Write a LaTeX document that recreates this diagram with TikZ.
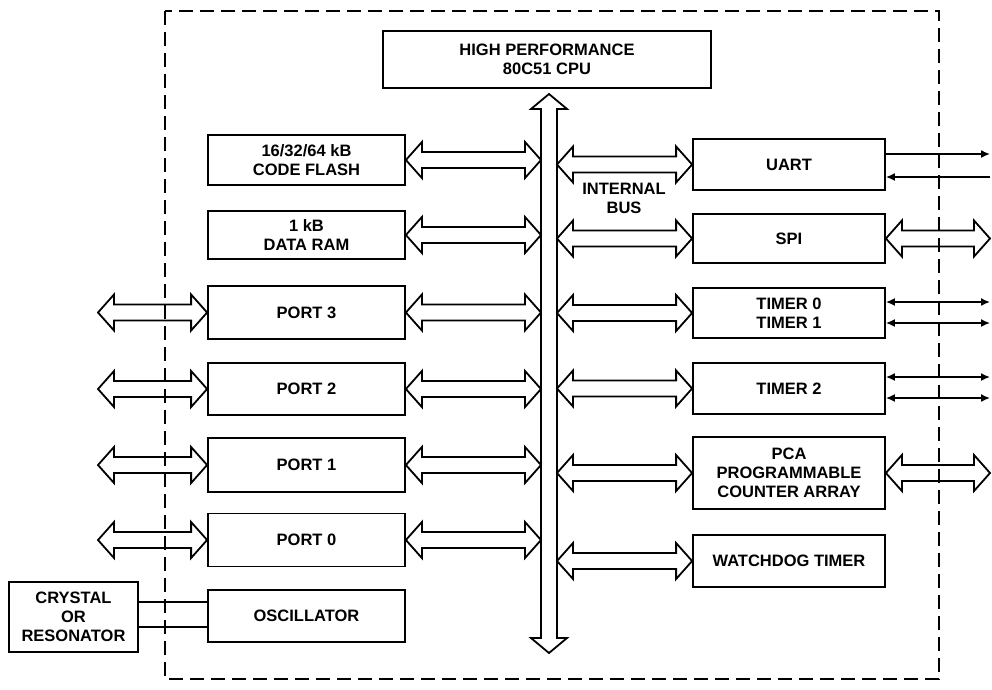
\documentclass[tikz,border=0pt]{standalone}
\usepackage{fontspec}
\setmainfont{Liberation Sans}
\usetikzlibrary{calc,arrows.meta}
\newcommand\hharrow[2]{%
 \draw[hol] let \p1=(#1), \p2=(#2) in
  (\x1,\y1) -- (\x1+16pt,\y1-18pt) -- (\x1+16pt,\y1-8pt) -- (\x2-16pt,\y1-8pt) -- (\x2-16pt,\y1-18pt) -- (\x2,\y1)
  -- (\x2-16pt,\y1+18pt) -- (\x2-16pt,\y1+8pt) -- (\x1+16pt,\y1+8pt) -- (\x1+16pt,\y1+18pt) -- cycle;}
\begin{document}
\begin{tikzpicture}[x=1pt,y=-1pt,
  blk/.style={draw, line width=1.8pt, align=center, inner sep=0pt,
    font=\bfseries\fontsize{16.5}{19}\selectfont},
  hol/.style={draw, line width=1.8pt, line join=miter},
  wire/.style={line width=1.6pt},
  tipa/.style={-{Latex[length=9pt,width=8pt]}},
  tipb/.style={{Latex[length=9pt,width=8pt]}-{Latex[length=9pt,width=8pt]}},
  boundary/.style={line width=2pt, dash pattern=on 14pt off 7pt}]
\useasboundingbox (0,0) rectangle (992,689);
\draw[boundary] (165,11) rectangle (939,679);

% CPU
\node[blk, minimum width=328pt, minimum height=57pt] (cpu) at (547,59.5) {HIGH PERFORMANCE\\80C51 CPU};

% left column
\node[blk, minimum width=197pt, minimum height=50pt] (flash) at (306.5,160) {16/32/64 kB\\CODE FLASH};
\node[blk, minimum width=197pt, minimum height=48pt] (ram) at (306.5,235) {1 kB\\DATA RAM};
\node[blk, minimum width=197pt, minimum height=53pt] (port3) at (306.5,312.5) {PORT 3};
\node[blk, minimum width=197pt, minimum height=52pt] (port2) at (306.5,389) {PORT 2};
\node[blk, minimum width=197pt, minimum height=54pt] (port1) at (306.5,465) {PORT 1};
\node[blk, minimum width=197pt, minimum height=53pt] (port0) at (306.5,540) {PORT 0};
\node[blk, minimum width=197pt, minimum height=52pt] (osc) at (306.5,616) {OSCILLATOR};
\node[blk, minimum width=129pt, minimum height=70pt] (xtal) at (73.5,617) {CRYSTAL\\OR\\RESONATOR};

% right column
\node[blk, minimum width=192pt, minimum height=51pt] (uart) at (789,164.5) {UART};
\node[blk, minimum width=192pt, minimum height=49pt] (spi) at (789,238.5) {SPI};
\node[blk, minimum width=192pt, minimum height=50pt] (tmr01) at (789,313) {TIMER 0\\TIMER 1};
\node[blk, minimum width=192pt, minimum height=51pt] (tmr2) at (789,388.5) {TIMER 2};
\node[blk, minimum width=192pt, minimum height=72pt] (pca) at (789,473) {PCA\\PROGRAMMABLE\\COUNTER ARRAY};
\node[blk, minimum width=192pt, minimum height=52pt] (wdt) at (789,561) {WATCHDOG TIMER};

\node[font=\bfseries\fontsize{16.5}{19}\selectfont, align=center, inner sep=0pt] (buslbl) at (624,198) {INTERNAL\\BUS};

% reference coordinates
\coordinate (busL) at (541,0);
\coordinate (busR) at (557,0);
\coordinate (extL) at (98,0);
\coordinate (extR) at (990,0);
\coordinate (bust) at (549,94);
\coordinate (busb) at (549,653);

% internal bus
\draw[hol] let \p1=(bust), \p2=(busb) in
  (\x1,\y1) -- (\x1+18pt,\y1-15pt) -- (\x1+8pt,\y1-15pt) -- (\x1+8pt,\y2+15pt) -- (\x1+18pt,\y2+15pt) -- (\x1,\y2)
  -- (\x1-18pt,\y2+15pt) -- (\x1-8pt,\y2+15pt) -- (\x1-8pt,\y1-15pt) -- (\x1-18pt,\y1-15pt) -- cycle;

% left internal arrows
\foreach \bx in {flash,ram,port3,port2,port1,port0}{\hharrow{\bx.east}{\bx.east -| busL}}
% right internal arrows
\foreach \bx in {uart,spi,tmr01,tmr2,pca,wdt}{\hharrow{\bx.west -| busR}{\bx.west}}
% left external port arrows
\foreach \bx in {port3,port2,port1,port0}{\hharrow{\bx.west -| extL}{\bx.west}}
% right external hollow arrows
\foreach \bx in {spi,pca}{\hharrow{\bx.east}{\bx.east -| extR}}

% crystal wires
\coordinate (c1) at (0,602);
\coordinate (c2) at (0,627);
\draw[wire] (xtal.east |- c1) -- (osc.west |- c1);
\draw[wire] (xtal.east |- c2) -- (osc.west |- c2);

% UART wires
\coordinate (u1) at (0,154);
\coordinate (u2) at (0,177);
\draw[wire, tipa] (uart.east |- u1) -- (extR |- u1);
\draw[wire, tipa] (extR |- u2) -- (uart.east |- u2);

% timer wires
\coordinate (t1) at (0,302);
\coordinate (t2) at (0,323);
\coordinate (t3) at (0,377);
\coordinate (t4) at (0,398);
\foreach \cc/\bb in {t1/tmr01,t2/tmr01,t3/tmr2,t4/tmr2}{
  \draw[wire, tipb] (\bb.east |- \cc) -- (extR |- \cc);}
\end{tikzpicture}
\end{document}
